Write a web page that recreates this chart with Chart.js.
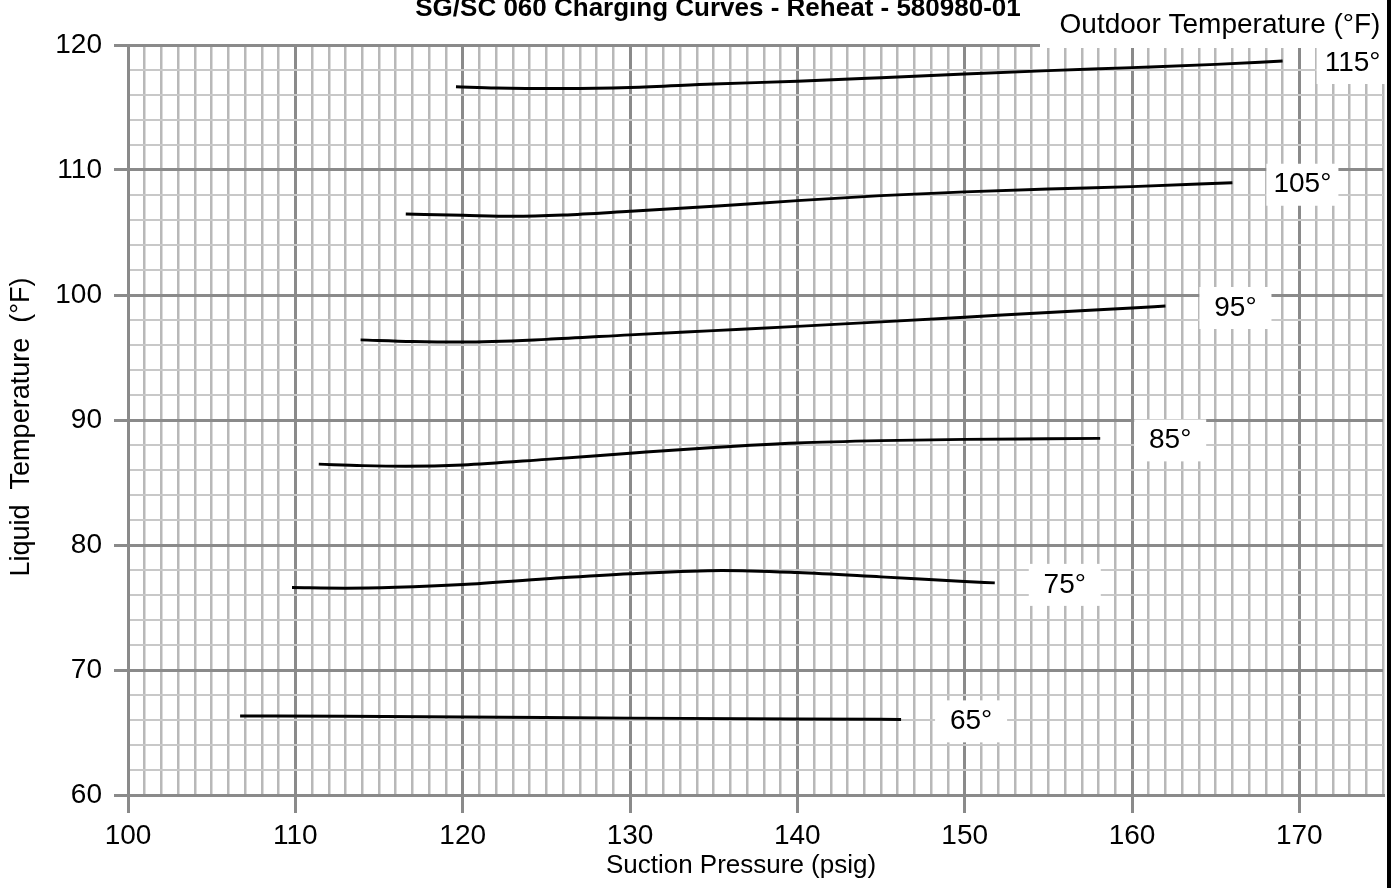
<!DOCTYPE html>
<html>
<head>
<meta charset="utf-8">
<script src="https://cdn.jsdelivr.net/npm/chart.js@4.4.1/dist/chart.umd.min.js"></script>
<style>
    html, body { margin: 0; padding: 0; background: #fff; }
    canvas { display: block; }
</style>
</head>
<body>
<canvas id="chargeChart" width="1397" height="888"></canvas>
<script>
const chartTitle = 'SG/SC 060 Charging Curves - Reheat - 580980-01'
const legendTitle = 'Outdoor Temperature (°F)'
const xTitle = 'Suction Pressure (psig)'
const yTitle = 'Liquid  Temperature  (°F)'

const outdoorTemps = [65, 75, 85, 95, 105, 115]

// suction pressure (psig) / liquid temperature (°F), one pair per outdoor temp
const suction65 = [106.7, 113, 120, 130, 140, 146.2]
const liquid65  = [66.32, 66.3, 66.25, 66.15, 66.08, 66.05]

const suction75 = [109.8, 113, 116, 120, 125, 130, 135.5, 140, 145, 150, 151.8]
const liquid75  = [76.6, 76.55, 76.62, 76.84, 77.3, 77.7, 77.97, 77.8, 77.45, 77.08, 76.97]

const suction85 = [111.4, 114, 116.6, 120, 125, 130, 135, 140, 145, 150, 155, 158.1]
const liquid85  = [86.47, 86.35, 86.3, 86.4, 86.85, 87.34, 87.8, 88.16, 88.35, 88.45, 88.5, 88.53]

const suction95 = [113.9, 117, 120, 125, 130, 135, 140, 145, 150, 155, 160, 162]
const liquid95  = [96.41, 96.28, 96.24, 96.45, 96.81, 97.15, 97.49, 97.85, 98.22, 98.6, 98.96, 99.12]

const suction105 = [116.6, 120, 123, 126, 130, 135, 140, 145, 150, 155, 160, 166]
const liquid105  = [106.48, 106.38, 106.3, 106.4, 106.7, 107.1, 107.55, 107.95, 108.25, 108.48, 108.67, 108.98]

const suction115 = [119.6, 122, 126, 130, 135, 140, 145, 150, 155, 160, 165, 169]
const liquid115  = [116.66, 116.56, 116.52, 116.6, 116.88, 117.1, 117.38, 117.68, 117.95, 118.19, 118.45, 118.72]

const suctionSets = [suction65, suction75, suction85, suction95, suction105, suction115]
const liquidSets = [liquid65, liquid75, liquid85, liquid95, liquid105, liquid115]

const fontFamily = '"Liberation Sans", Arial, sans-serif'
const majorGrid = '#8a8a8a'
const minorGridX = '#b8b8b8'
const minorGridY = '#c8c8c8'

function toPoints(xs, ys) {
    return xs.map((x, i) => ({ x: x, y: ys[i] }))
}

const datasets = outdoorTemps.map((t, i) => ({
    label: t + '°',
    data: toPoints(suctionSets[i], liquidSets[i]),
    showLine: true,
    borderColor: '#000',
    borderWidth: 3,
    pointRadius: 0,
    cubicInterpolationMode: 'monotone'
}))

// white boxed labels, titles, and the right frame line
const annotations = {
    id: 'annotations',
    afterDraw(chart) {
        const ctx = chart.ctx
        ctx.save()
        ctx.textAlign = 'center'
        ctx.textBaseline = 'middle'

        chart.data.datasets.forEach((ds, i) => {
            const meta = chart.getDatasetMeta(i)
            const last = meta.data[meta.data.length - 1]
            const cx = last.x + 70
            const cy = last.y + 2
            ctx.fillStyle = '#fff'
            ctx.fillRect(cx - 36, cy - 21, 72, 42)
            ctx.fillStyle = '#000'
            ctx.font = '28px ' + fontFamily
            ctx.fillText(ds.label, cx, cy)
        })

        ctx.fillStyle = '#fff'
        ctx.fillRect(1040, 0, 357, 48)
        ctx.fillStyle = '#000'
        ctx.font = '28px ' + fontFamily
        ctx.fillText(legendTitle, 1220, 25)

        ctx.font = '26px ' + fontFamily
        ctx.fillText(xTitle, 741, 866)

        ctx.save()
        ctx.translate(22, 427)
        ctx.rotate(-Math.PI / 2)
        ctx.font = '27px ' + fontFamily
        ctx.fillText(yTitle, 0, 0)
        ctx.restore()

        ctx.font = 'bold 26px ' + fontFamily
        ctx.textBaseline = 'alphabetic'
        ctx.fillText(chartTitle, 718, 16)

        ctx.fillRect(1387, 0, 4, 888)
        ctx.restore()
    }
}

function isMajor(c) {
    return c.tick && Math.abs(c.tick.value % 10) < 1e-6
}

new Chart(document.getElementById('chargeChart'), {
    type: 'scatter',
    data: { datasets: datasets },
    options: {
        responsive: false,
        animation: false,
        devicePixelRatio: 1,
        layout: { padding: { top: 45, right: 14, left: 0, bottom: 0 } },
        plugins: {
            legend: { display: false },
            tooltip: { enabled: false }
        },
        scales: {
            x: {
                type: 'linear',
                min: 100,
                max: 175,
                afterFit(scale) { scale.height = 93 },
                border: { color: majorGrid, width: 3 },
                grid: {
                    color: c => isMajor(c) ? majorGrid : minorGridX,
                    lineWidth: c => isMajor(c) ? 3 : 2.5,
                    tickColor: c => isMajor(c) ? majorGrid : 'rgba(0,0,0,0)',
                    tickLength: 18,
                    tickWidth: 3
                },
                ticks: {
                    stepSize: 1,
                    autoSkip: false,
                    maxRotation: 0,
                    padding: 6,
                    color: '#000',
                    font: { family: fontFamily, size: 28 },
                    callback: v => v % 10 === 0 ? v : ''
                }
            },
            y: {
                type: 'linear',
                min: 60,
                max: 120,
                afterFit(scale) { scale.width = 128 },
                border: { color: majorGrid, width: 3 },
                grid: {
                    color: c => isMajor(c) ? majorGrid : minorGridY,
                    lineWidth: c => isMajor(c) ? 3 : 2,
                    tickColor: c => isMajor(c) ? majorGrid : 'rgba(0,0,0,0)',
                    tickLength: 14,
                    tickWidth: 3
                },
                ticks: {
                    stepSize: 2,
                    autoSkip: false,
                    padding: 12,
                    color: '#000',
                    font: { family: fontFamily, size: 28 },
                    callback: v => v % 10 === 0 ? v : ''
                }
            }
        }
    },
    plugins: [annotations]
});
</script>
</body>
</html>
